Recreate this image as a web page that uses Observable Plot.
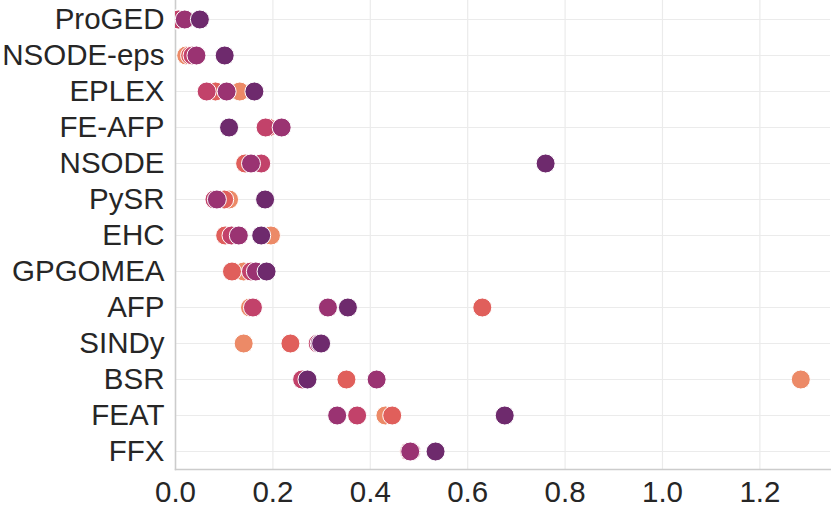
<!DOCTYPE html>
<html>
<head>
<meta charset="utf-8">
<script src="https://cdn.jsdelivr.net/npm/d3@7"></script>
<script src="https://cdn.jsdelivr.net/npm/@observablehq/plot@0.6"></script>
<style>
  html, body { margin: 0; padding: 0; background: #fff; }
  #chart { width: 831px; height: 507px; }
</style>
</head>
<body>
<div id="chart"></div>
<script>
const categories = ["ProGED","NSODE-eps","EPLEX","FE-AFP","NSODE","PySR","EHC","GPGOMEA","AFP","SINDy","BSR","FEAT","FFX"];
const seriesNames = ["s1","s2","s3","s4","s5"];
const seriesColors = ["#ec8a67","#e05f5b","#c2426a","#9a3372","#6e2a6d"];
const s1 = [0.002,0.022,0.132,0.190,0.145,0.110,0.196,0.140,0.153,0.140,1.284,0.431,0.480];
const s2 = [0.003,0.030,0.082,0.190,0.143,0.100,0.102,0.116,0.630,0.236,0.351,0.445,0.480];
const s3 = [0.006,0.035,0.064,0.185,0.176,0.080,0.115,0.155,0.159,0.292,0.260,0.373,0.484];
const s4 = [0.019,0.043,0.105,0.218,0.155,0.085,0.130,0.165,0.313,0.296,0.413,0.332,0.482];
const s5 = [0.050,0.101,0.162,0.110,0.760,0.184,0.176,0.187,0.354,0.299,0.271,0.676,0.534];
const xTicks = [0,0.2,0.4,0.6,0.8,1.0,1.2];

const seriesValues = [s1,s2,s3,s4,s5];
const data = [];
seriesNames.forEach((s, i) => {
  categories.forEach((c, j) => data.push({method: c, series: s, value: seriesValues[i][j]}));
});

const chart = Plot.plot({
  width: 831,
  height: 507,
  marginLeft: 175,
  marginRight: 1,
  marginTop: 0,
  marginBottom: 38,
  style: {fontFamily: "'Liberation Sans', Arial, sans-serif", fontSize: "29.5px", color: "#262626", background: "#fff", overflow: "visible"},
  x: {domain: [0, 1.345], label: null},
  y: {type: "point", domain: categories, padding: 0.5, label: null},
  color: {domain: seriesNames, range: seriesColors},
  marks: [
    Plot.gridX(xTicks, {stroke: "#ebebeb", strokeOpacity: 1, strokeWidth: 1.2}),
    Plot.gridY(categories, {stroke: "#ebebeb", strokeOpacity: 1, strokeWidth: 1.2}),
    Plot.frame({anchor: "left", stroke: "#cccccc", strokeWidth: 1.5}),
    Plot.frame({anchor: "bottom", stroke: "#cccccc", strokeWidth: 1.5}),
    Plot.axisX(xTicks, {tickSize: 0, tickPadding: 12, tickFormat: d3.format(".1f"), fontSize: 29.5, fill: "#262626", label: null}),
    Plot.axisY({tickSize: 0, tickPadding: 11, fontSize: 29.5, fill: "#262626", label: null}),
    Plot.dot(data, {x: "value", y: "method", fill: "series", r: 9.5, stroke: "white", strokeWidth: 1, fillOpacity: 1, clip: true})
  ]
});
document.getElementById("chart").appendChild(chart);
</script>
</body>
</html>
